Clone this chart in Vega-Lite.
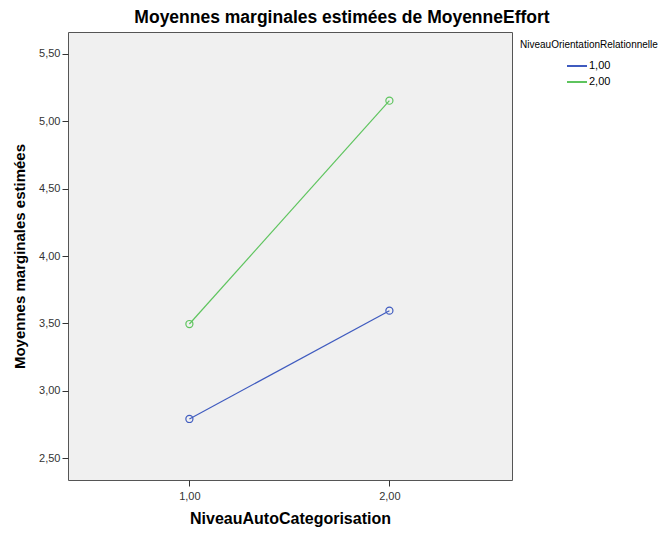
{
  "$schema": "https://vega.github.io/schema/vega-lite/v6.json",
  "autosize": "none",
  "width": 444,
  "height": 448,
  "padding": {"left": 68, "top": 32, "right": 147, "bottom": 54},
  "background": "white",
  "title": {
    "text": "Moyennes marginales estimées de MoyenneEffort",
    "font": "Liberation Sans",
    "fontSize": 17.5,
    "fontWeight": "bold",
    "color": "black",
    "anchor": "middle",
    "dx": 52,
    "offset": 6
  },
  "config": {
    "view": {"fill": "#F0F0F0", "stroke": "#555555", "strokeWidth": 1},
    "font": "Liberation Sans"
  },
  "data": {
    "values": [
      {"x": 1, "y": 2.790, "g": "1,00"},
      {"x": 2, "y": 3.594, "g": "1,00"},
      {"x": 1, "y": 3.495, "g": "2,00"},
      {"x": 2, "y": 5.153, "g": "2,00"}
    ]
  },
  "encoding": {
    "x": {
      "field": "x",
      "type": "quantitative",
      "scale": {"domain": [0.393, 2.613], "nice": false, "zero": false},
      "axis": {
        "values": [1, 2],
        "labelExpr": "replace(format(datum.value,'.2f'),'.',',')",
        "grid": false,
        "domain": false,
        "tickColor": "#333333",
        "tickSize": 6,
        "labelFontSize": 11,
        "labelColor": "#333333",
        "labelPadding": 4,
        "title": "NiveauAutoCategorisation",
        "titleFontSize": 16,
        "titleFontWeight": "bold",
        "titleColor": "black",
        "titlePadding": 9
      }
    },
    "y": {
      "field": "y",
      "type": "quantitative",
      "scale": {"domain": [2.337, 5.663], "nice": false, "zero": false},
      "axis": {
        "values": [2.5, 3, 3.5, 4, 4.5, 5, 5.5],
        "labelExpr": "replace(format(datum.value,'.2f'),'.',',')",
        "grid": false,
        "domain": false,
        "tickColor": "#333333",
        "tickSize": 6,
        "labelFontSize": 11,
        "labelColor": "#333333",
        "labelPadding": 2,
        "title": "Moyennes marginales estimées",
        "titleFontSize": 15,
        "titleFontWeight": "bold",
        "titleColor": "black",
        "titlePadding": 11
      }
    },
    "color": {
      "field": "g",
      "type": "nominal",
      "scale": {"domain": ["1,00", "2,00"], "range": ["#3f5bbf", "#5ec45e"]},
      "legend": {
        "orient": "none",
        "legendX": 452,
        "legendY": 8,
        "title": "NiveauOrientationRelationnelle",
        "titleFont": "Liberation Sans",
        "titleFontSize": 10,
        "titleFontWeight": "normal",
        "titleColor": "black",
        "titlePadding": 5,
        "labelFontSize": 11,
        "labelColor": "black",
        "symbolType": "stroke",
        "symbolSize": 400,
        "symbolStrokeWidth": 2,
        "symbolOffset": 46,
        "labelOffset": 1,
        "rowPadding": -1
      }
    }
  },
  "layer": [
    {"mark": {"type": "line", "strokeWidth": 1.2}},
    {"mark": {"type": "point", "shape": "circle", "filled": false, "size": 50, "strokeWidth": 1.2, "opacity": 1}}
  ]
}
